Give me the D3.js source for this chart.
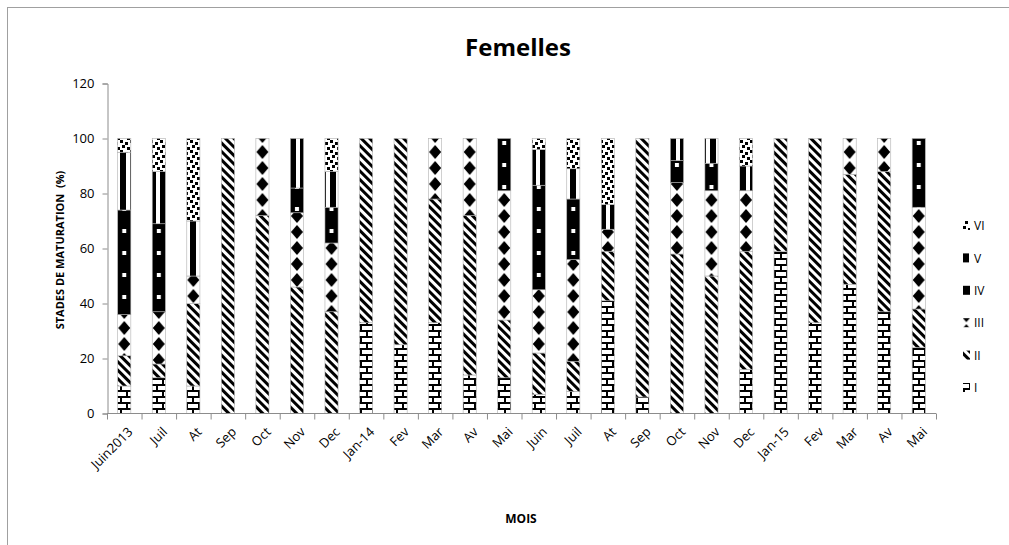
<!DOCTYPE html>
<html>
<head>
<meta charset="utf-8">
<script src="https://cdn.jsdelivr.net/npm/d3@7"></script>
<style>
  body { margin: 0; background: #fff; }
  text { font-family: "Open Sans", sans-serif; }
</style>
</head>
<body>
<div id="container"></div>
<script>
/* CONSTANTS AND GLOBALS */
const width = 1009,
  height = 545,
  axisColor = "#8c8c8c";

/* DATA (% of females at each maturation stage) */
const months = ["Juin2013", "Juil", "At", "Sep", "Oct", "Nov", "Dec", "Jan-14", "Fev", "Mar", "Av", "Mai",
  "Juin", "Juil", "At", "Sep", "Oct", "Nov", "Dec", "Jan-15", "Fev", "Mar", "Av", "Mai"];
const stages = ["I", "II", "III", "IV", "V", "VI"];
const stageI   = [10, 13, 10, 0, 0, 0, 0, 33, 25, 33, 14, 13, 7, 8, 41, 6, 0, 0, 16, 59, 33, 47, 37, 24];
const stageII  = [11, 5, 30, 100, 72, 46, 37, 67, 75, 45, 58, 21, 15, 11, 18, 94, 58, 50, 43, 41, 67, 40, 51, 14];
const stageIII = [15, 19, 10, 0, 28, 27, 25, 0, 0, 22, 28, 47, 23, 37, 8, 0, 26, 31, 22, 0, 0, 13, 12, 37];
const stageIV  = [38, 32, 0, 0, 0, 9, 13, 0, 0, 0, 0, 19, 38, 22, 0, 0, 8, 10, 0, 0, 0, 0, 0, 25];
const stageV   = [21, 19, 20, 0, 0, 18, 13, 0, 0, 0, 0, 0, 13, 11, 9, 0, 8, 9, 9, 0, 0, 0, 0, 0];
const stageVI  = [5, 12, 30, 0, 0, 0, 12, 0, 0, 0, 0, 0, 4, 11, 24, 0, 0, 0, 10, 0, 0, 0, 0, 0];
const yTicks = [0, 20, 40, 60, 80, 100, 120];

const table = months.map((m, i) => ({
  idx: i, month: m,
  I: stageI[i], II: stageII[i], III: stageIII[i], IV: stageIV[i], V: stageV[i], VI: stageVI[i]
}));

const svg = d3.select("#container")
  .append("svg")
  .attr("width", width)
  .attr("height", height);

/* SCALES */
const xScale = d3.scaleBand()
  .domain(table.map(d => d.idx))
  .range([107, 936])
  .paddingInner(0.62)
  .paddingOuter(0.31);

const yScale = d3.scaleLinear()
  .domain([0, 120])
  .range([413.5, 83.5]);

const step = xScale.step();
const firstCenter = xScale(0) + xScale.bandwidth() / 2;

/* PATTERNS (black & white fills like the original) */
const defs = svg.append("defs");

function makePattern(id, w, h, bg, draw, opts = {}) {
  const p = defs.append("pattern")
    .attr("id", id)
    .attr("patternUnits", "userSpaceOnUse")
    .attr("width", w)
    .attr("height", h);
  if (opts.x !== undefined) p.attr("x", opts.x);
  if (opts.transform) p.attr("patternTransform", opts.transform);
  p.append("rect").attr("width", w).attr("height", h).attr("fill", bg);
  draw(p);
}

// I : brick / H shapes
makePattern("pI", 12, 12, "#fff", p => {
  p.append("rect").attr("x", 0).attr("y", 0).attr("width", 12).attr("height", 2).attr("fill", "#000");
  p.append("rect").attr("x", 0).attr("y", 0).attr("width", 2).attr("height", 6).attr("fill", "#000");
  p.append("rect").attr("x", 0).attr("y", 6).attr("width", 12).attr("height", 2).attr("fill", "#000");
  p.append("rect").attr("x", 6).attr("y", 6).attr("width", 2).attr("height", 6).attr("fill", "#000");
});
// II : wide downward diagonal
makePattern("pII", 6, 6, "#fff", p => {
  p.append("rect").attr("x", 0).attr("y", 0).attr("width", 3).attr("height", 6).attr("fill", "#000");
}, { transform: "rotate(-45)" });
// III : diamonds, centred on the bars
const hw = step / 2;
makePattern("pIII", hw, 16, "#fff", p => {
  p.append("path")
    .attr("d", `M${hw / 2},1 L${hw / 2 + 6},8 L${hw / 2},15 L${hw / 2 - 6},8 Z`)
    .attr("fill", "#000");
}, { x: firstCenter - hw / 2 });
// IV : black with white squares
makePattern("pIV", hw, 22, "#000", p => {
  p.append("rect").attr("x", hw / 2 - 2).attr("y", 9).attr("width", 4).attr("height", 4).attr("fill", "#fff");
}, { x: firstCenter - hw / 2 });
// V : wide vertical stripes
makePattern("pV", 10, 10, "#000", p => {
  p.append("rect").attr("x", 6).attr("y", 0).attr("width", 4).attr("height", 10).attr("fill", "#fff");
});
// VI : confetti
makePattern("pVI", 10, 10, "#fff", p => {
  [[0, 0], [5, 2], [2, 5], [7, 7]].forEach(([x, y]) =>
    p.append("rect").attr("x", x).attr("y", y).attr("width", 3).attr("height", 3).attr("fill", "#000"));
});

/* CHART FRAME */
svg.append("rect")
  .attr("x", 7.5).attr("y", 7.5)
  .attr("width", 1100).attr("height", 600)
  .attr("fill", "none")
  .attr("stroke", "#a0a0a0");

const stack = d3.stack().keys(stages)(table);

/* BARS */
svg.append("g")
  .selectAll("g")
  .data(stack)
  .join("g")
  .attr("fill", s => `url(#p${s.key})`)
  .selectAll("rect")
  .data(s => s.filter(d => d[1] > d[0]))
  .join("rect")
  .attr("x", d => xScale(d.data.idx))
  .attr("y", d => yScale(d[1]))
  .attr("width", xScale.bandwidth())
  .attr("height", d => yScale(d[0]) - yScale(d[1]))
  .attr("stroke", "#b0b0b0")
  .attr("stroke-width", 0.6);

/* Y AXIS */
const yAxis = d3.axisLeft(yScale).tickValues(yTicks).tickSize(5).tickPadding(8);
const yG = svg.append("g")
  .attr("transform", "translate(107.5,0)")
  .call(yAxis);
yG.selectAll("path, line").attr("stroke", axisColor);
yG.selectAll("text").style("font-size", "13px").attr("fill", "#000");

/* X AXIS */
const xG = svg.append("g")
  .attr("transform", "translate(0,413.5)");
xG.append("line")
  .attr("x1", xScale.range()[0]).attr("x2", xScale.range()[1])
  .attr("stroke", axisColor);
xG.selectAll(".tick")
  .data(d3.range(months.length + 1))
  .join("line")
  .attr("class", "tick")
  .attr("x1", i => xScale.range()[0] + i * step + 0.5)
  .attr("x2", i => xScale.range()[0] + i * step + 0.5)
  .attr("y1", 0).attr("y2", 6)
  .attr("stroke", axisColor);
xG.selectAll(".lbl")
  .data(table)
  .join("text")
  .attr("class", "lbl")
  .attr("transform", d => `translate(${xScale(d.idx) + xScale.bandwidth() / 2 + 6},${16}) rotate(-45)`)
  .attr("text-anchor", "end")
  .attr("dy", "0.35em")
  .style("font-size", "13px")
  .text(d => d.month);

/* TITLES */
svg.append("text")
  .attr("x", 518).attr("y", 56)
  .attr("text-anchor", "middle")
  .style("font-size", "24px")
  .style("font-weight", "bold")
  .text("Femelles");

svg.append("text")
  .attr("transform", "translate(64,250) rotate(-90)")
  .attr("text-anchor", "middle")
  .style("font-size", "11px")
  .style("font-weight", "bold")
  .attr("xml:space", "preserve")
  .text("STADES DE MATURATION  (%)");

svg.append("text")
  .attr("x", 521).attr("y", 523)
  .attr("text-anchor", "middle")
  .style("font-size", "12px")
  .style("font-weight", "bold")
  .text("MOIS");

/* LEGEND */
const legend = svg.append("g")
  .selectAll("g")
  .data(stages.slice().reverse())
  .join("g")
  .attr("transform", (d, i) => `translate(963,${226 + i * 32.4})`);
legend.append("rect")
  .attr("x", 0).attr("y", -5)
  .attr("width", 7).attr("height", 9)
  .attr("fill", d => `url(#p${d})`);
legend.append("text")
  .attr("x", 11).attr("y", 0)
  .attr("dy", "0.35em")
  .style("font-size", "12px")
  .text(d => d);
</script>
</body>
</html>
